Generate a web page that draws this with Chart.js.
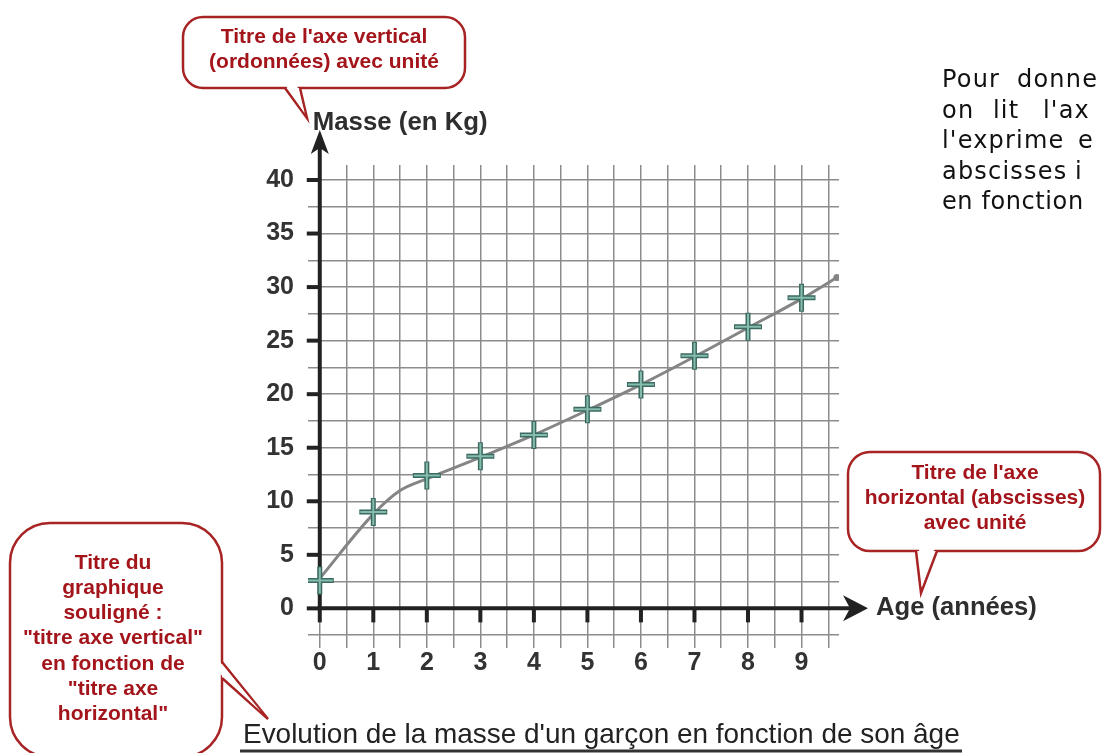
<!DOCTYPE html>
<html><head><meta charset="utf-8">
<script src="https://cdn.jsdelivr.net/npm/chart.js@4.4.0/dist/chart.umd.min.js"></script>
<style>html,body{margin:0;padding:0;background:#fff;overflow:hidden}#wrap{width:1102px;height:753px;position:relative}</style>
</head><body><div id="wrap"><canvas id="c" width="1102" height="753"></canvas></div>
<script>
// ---- data ----
const ages = [0, 1, 2, 3, 4, 5, 6, 7, 8, 9];
const masses = [2.6, 9.0, 12.4, 14.2, 16.2, 18.6, 20.9, 23.6, 26.3, 29.0];
const curveAges = [0, 1, 1.5, 2, 3, 4, 5, 6, 7, 8, 9, 9.66];
const curveMasses = [2.8, 8.8, 11.0, 12.1, 14.1, 16.2, 18.5, 20.9, 23.5, 26.2, 28.9, 30.9];
const xTickLabels = ['0', '1', '2', '3', '4', '5', '6', '7', '8', '9'];
const yTickLabels = ['0', '5', '10', '15', '20', '25', '30', '35', '40'];
const xAxisTitle = 'Age (années)';
const yAxisTitle = 'Masse (en Kg)';
const chartTitle = "Evolution de la masse d'un garçon en fonction de son âge";
const calloutVertical = ["Titre de l'axe vertical", "(ordonnées) avec unité"];
const calloutHorizontal = ["Titre de l'axe", "horizontal (abscisses)", "avec unité"];
const calloutTitle = ['Titre du', 'graphique', 'souligné :', '"titre axe vertical"', 'en fonction de', '"titre axe', 'horizontal"'];
const sideText = [['Pour', 'donne'], ['on', 'lit', "l'ax"], ["l'exprime", 'e'], ['abscisses', 'i'], ['en fonction']];

const crossPts = ages.map((a, i) => ({x: a, y: masses[i]}));
const curvePts = curveAges.map((a, i) => ({x: a, y: curveMasses[i]}));

const RED = '#a82424', RED_TXT = '#a3141b', DARK = '#222';

function callout(ctx, x1, y1, x2, y2, r, base1, base2, tip, lines, cx, firstY, step) {
  ctx.save();
  ctx.lineWidth = 2.5; ctx.strokeStyle = RED; ctx.fillStyle = '#fff';
  ctx.beginPath(); ctx.roundRect(x1, y1, x2 - x1, y2 - y1, r); ctx.fill(); ctx.stroke();
  ctx.beginPath(); ctx.moveTo(base1[0], base1[1]); ctx.lineTo(tip[0], tip[1]); ctx.lineTo(base2[0], base2[1]); ctx.closePath();
  ctx.fill();
  const mx = (base1[0] + base2[0]) / 2, my = (base1[1] + base2[1]) / 2;
  ctx.beginPath(); ctx.moveTo(base1[0], base1[1]); ctx.lineTo(tip[0], tip[1]); ctx.lineTo(base2[0], base2[1]);
  ctx.stroke();
  ctx.fillStyle = '#fff';
  ctx.beginPath();
  const b1i = [base1[0] + (mx - tip[0]) * 0.08, base1[1] + (my - tip[1]) * 0.08];
  const b2i = [base2[0] + (mx - tip[0]) * 0.08, base2[1] + (my - tip[1]) * 0.08];
  ctx.moveTo(b1i[0] + (base2[0]-base1[0])*0.12, b1i[1] + (base2[1]-base1[1])*0.12);
  ctx.lineTo(b2i[0] - (base2[0]-base1[0])*0.12, b2i[1] - (base2[1]-base1[1])*0.12);
  ctx.lineTo(tip[0] + (mx - tip[0]) * 0.15, tip[1] + (my - tip[1]) * 0.15);
  ctx.closePath(); ctx.fill();
  ctx.fillStyle = RED_TXT; ctx.font = 'bold 21px "Liberation Sans", Arial, sans-serif';
  ctx.textAlign = 'center'; ctx.textBaseline = 'middle';
  lines.forEach((t, i) => ctx.fillText(t, cx, firstY + i * step));
  ctx.restore();
}

function fitText(ctx, text, x, y, width, fontTpl, baseline) {
  let size = 20;
  ctx.font = fontTpl.replace('SZ', size);
  size = size * width / ctx.measureText(text).width;
  ctx.font = fontTpl.replace('SZ', size.toFixed(2));
  ctx.textAlign = 'left'; ctx.textBaseline = baseline;
  ctx.fillText(text, x, y);
}

const axesPlugin = {
  id: 'axesPlugin',
  beforeDatasetsDraw(chart) {
    const ctx = chart.ctx, xs = chart.scales.x, ys = chart.scales.y, ca = chart.chartArea;
    const x0 = xs.getPixelForValue(0), y0 = ys.getPixelForValue(0);
    ctx.save();
    ctx.strokeStyle = DARK; ctx.fillStyle = DARK; ctx.lineWidth = 4; ctx.lineCap = 'butt';
    const yTip = ca.top - 35, xTip = ca.right + 29;
    ctx.beginPath(); ctx.moveTo(x0, y0 + 2); ctx.lineTo(x0, yTip + 15); ctx.stroke();
    ctx.beginPath(); ctx.moveTo(x0 - 2, y0); ctx.lineTo(xTip - 15, y0); ctx.stroke();
    ctx.beginPath(); ctx.moveTo(x0, yTip); ctx.lineTo(x0 + 9, yTip + 24); ctx.lineTo(x0, yTip + 18); ctx.lineTo(x0 - 9, yTip + 24); ctx.closePath(); ctx.fill();
    ctx.beginPath(); ctx.moveTo(xTip, y0); ctx.lineTo(xTip - 25, y0 - 13); ctx.lineTo(xTip - 18, y0); ctx.lineTo(xTip - 25, y0 + 13); ctx.closePath(); ctx.fill();
    yTickLabels.forEach(l => { const y = ys.getPixelForValue(Number(l)); ctx.beginPath(); ctx.moveTo(x0 - 13, y); ctx.lineTo(x0, y); ctx.stroke(); });
    xTickLabels.forEach(l => { const x = xs.getPixelForValue(Number(l)); ctx.beginPath(); ctx.moveTo(x, y0); ctx.lineTo(x, y0 + 14); ctx.stroke(); });
    ctx.restore();
  },
  afterDraw(chart) {
    const ctx = chart.ctx, xs = chart.scales.x, ys = chart.scales.y, ca = chart.chartArea;
    const x0 = xs.getPixelForValue(0), y0 = ys.getPixelForValue(0);
    ctx.save();
    ctx.fillStyle = '#2e2e2e';
    fitText(ctx, yAxisTitle, x0 - 7, ca.top - 42, 175, 'bold SZpx "Liberation Sans", Arial, sans-serif', 'middle');
    fitText(ctx, xAxisTitle, ca.right + 37, y0, 161, 'bold SZpx "Liberation Sans", Arial, sans-serif', 'middle');
    ctx.fillStyle = '#222';
    fitText(ctx, chartTitle, 243, 743, 717, 'SZpx "Liberation Sans", Arial, sans-serif', 'alphabetic');
    ctx.strokeStyle = '#333'; ctx.lineWidth = 3;
    ctx.beginPath(); ctx.moveTo(240, 751); ctx.lineTo(962, 751); ctx.stroke();
    // side paragraph (justified, clipped by the page edge)
    ctx.fillStyle = '#111'; ctx.font = '24px "DejaVu Sans", sans-serif';
    ctx.textAlign = 'left'; ctx.textBaseline = 'alphabetic';
    const starts = [[942, 1017], [942, 993, 1043], [942, 1078], [942, 1075], [942]];
    const spacing = ['1.2px', '1.2px', '1.2px', '1.2px', '0.6px'];
    sideText.forEach((words, i) => { ctx.letterSpacing = spacing[i]; words.forEach((w, j) => ctx.fillText(w, starts[i][j], 87 + i * 30.5)); });
    ctx.letterSpacing = '0px';
    ctx.restore();
    callout(ctx, 183, 17, 465, 88, 20, [285, 88], [300, 88], [307, 118], calloutVertical, 324, 37, 25);
    callout(ctx, 848, 452, 1100, 551, 22, [916, 551], [937, 551], [921, 593], calloutHorizontal, 975, 473, 25);
    callout(ctx, 10, 523, 222, 757, 40, [222, 662], [222, 678], [268, 719], calloutTitle, 113, 563, 25.2);
  }
};

new Chart(document.getElementById('c'), {
  type: 'scatter',
  data: {
    datasets: [
      { data: crossPts, showLine: false, pointStyle: 'cross', pointRadius: 13, pointBorderWidth: 2,
        pointBorderColor: '#86bcad', pointBackgroundColor: 'transparent' },
      { data: crossPts, showLine: false, pointStyle: 'cross', pointRadius: 14, pointBorderWidth: 5,
        pointBorderColor: '#3b6a60', pointBackgroundColor: 'transparent' },
      { data: curvePts, showLine: true, borderColor: '#858585', borderWidth: 3, cubicInterpolationMode: 'monotone',
        pointRadius: ctx => ctx.dataIndex === curvePts.length - 1 ? 3.5 : 0,
        pointBackgroundColor: '#858585', pointBorderWidth: 0 }
    ]
  },
  options: {
    responsive: false, animation: false,
    layout: { padding: { top: 165, right: 263, left: 0, bottom: 0 } },
    plugins: { legend: { display: false }, tooltip: { enabled: false } },
    scales: {
      x: {
        type: 'linear', min: -0.22, max: 9.7,
        afterBuildTicks: s => { const t = []; for (let v = 0; v <= 9.5; v += 0.5) t.push({ value: v }); s.ticks = t; },
        afterFit: s => { s.height = 105; },
        grid: { color: '#8c8c8c', lineWidth: 1.5, drawTicks: false },
        border: { display: false },
        ticks: { autoSkip: false, maxRotation: 0, padding: 0, color: '#333',
          font: { family: '"Liberation Sans", Arial, sans-serif', size: 25, weight: 'bold' },
          callback: v => Number.isInteger(v) && xTickLabels[v] !== undefined ? xTickLabels[v] : '' }
      },
      y: {
        type: 'linear', min: -3.7, max: 41.4,
        afterBuildTicks: s => { const t = []; for (let v = -2.5; v <= 40; v += 2.5) t.push({ value: v }); s.ticks = t; },
        afterFit: s => { s.width = 308; },
        grid: { color: '#8c8c8c', lineWidth: 1.5, drawTicks: false },
        border: { display: false },
        ticks: { autoSkip: false, padding: 14, color: '#333',
          font: { family: '"Liberation Sans", Arial, sans-serif', size: 25, weight: 'bold' },
          callback: v => (v >= 0 && v % 5 === 0) ? yTickLabels[v / 5] : '' }
      }
    }
  },
  plugins: [axesPlugin]
});
</script></body></html>
